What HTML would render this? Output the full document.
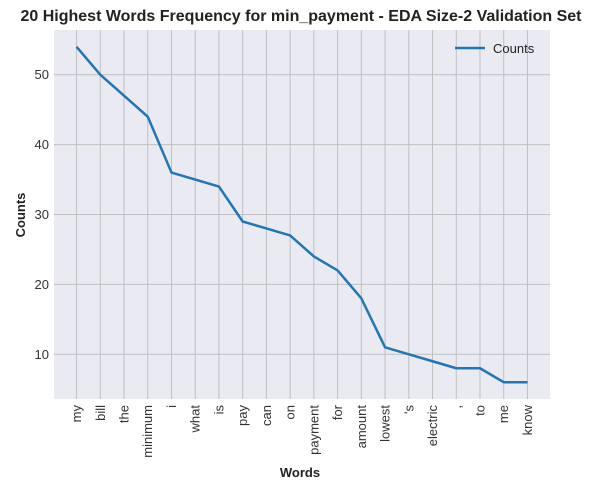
<!DOCTYPE html>
<html><head><meta charset="utf-8"><style>
body{margin:0;background:#fff;}
svg text{font-family:"Liberation Sans",Arial,sans-serif;}
</style></head><body>
<svg id="c" width="604" height="490" xmlns="http://www.w3.org/2000/svg">
<text x="301" y="21" text-anchor="middle" font-size="16" font-weight="bold" fill="#222">20 Highest Words Frequency for min_payment - EDA Size-2 Validation Set</text>
<rect x="54" y="30" width="496" height="369" fill="#eaeaf2"/>
<g id="grid"></g>
<g id="ticks"></g>
<path id="line" fill="none" stroke="#1f77b4" stroke-width="2.5" stroke-linejoin="round"/>
<g>
<line x1="455" y1="48" x2="485" y2="48" stroke="#1f77b4" stroke-width="2.5"/>
<text x="493" y="53" font-size="13" fill="#222">Counts</text>
</g>
<text x="0" y="0" transform="translate(25,215) rotate(-90)" text-anchor="middle" font-size="13" font-weight="bold" fill="#222">Counts</text>
<text x="300" y="477" text-anchor="middle" font-size="13" font-weight="bold" fill="#222">Words</text>
</svg>
<script>
const categories=["my","bill","the","minimum","i","what","is","pay","can","on","payment","for","amount","lowest","'s","electric",",","to","me","know"];
const counts=[54,50,47,44,36,35,34,29,28,27,24,22,18,11,10,9,8,8,6,6];
const yTicks=[10,20,30,40,50];
const L=54,R=550,T=30,B=399;
const n=categories.length;
const xmin=-0.95,xmax=n-1+0.95;
const ymin=3.6,ymax=56.4;
const xs=i=>L+(i-xmin)/(xmax-xmin)*(R-L);
const ys=v=>B-(v-ymin)/(ymax-ymin)*(B-T);
const NS="http://www.w3.org/2000/svg";
const g=document.getElementById('grid'),tk=document.getElementById('ticks');
function mk(t,a,p){const e=document.createElementNS(NS,t);for(const k in a)e.setAttribute(k,a[k]);p.appendChild(e);return e;}
categories.forEach((c,i)=>{
 const x=xs(i);
 const l=mk('line',{x1:x,x2:x,y1:T,y2:B,stroke:'#c0c0c0','stroke-width':1},g);
 
 
 const t=mk('text',{transform:`translate(${x+4.5},405) rotate(-90)`,'text-anchor':'end','font-size':13,fill:'#333'},tk);
 t.textContent=c;
 
 
});
yTicks.forEach(v=>{
 const y=ys(v);
 const l=mk('line',{x1:L,x2:R,y1:y,y2:y,stroke:'#c0c0c0','stroke-width':1},g);
 
 
 const t=mk('text',{x:49,y:y+4.5,'text-anchor':'end','font-size':13,fill:'#333'},tk);
 t.textContent=v;
 
 
});
document.getElementById('line').setAttribute('d',counts.map((v,i)=>(i?'L':'M')+xs(i)+','+ys(v)).join(''));
</script>
</body></html>
